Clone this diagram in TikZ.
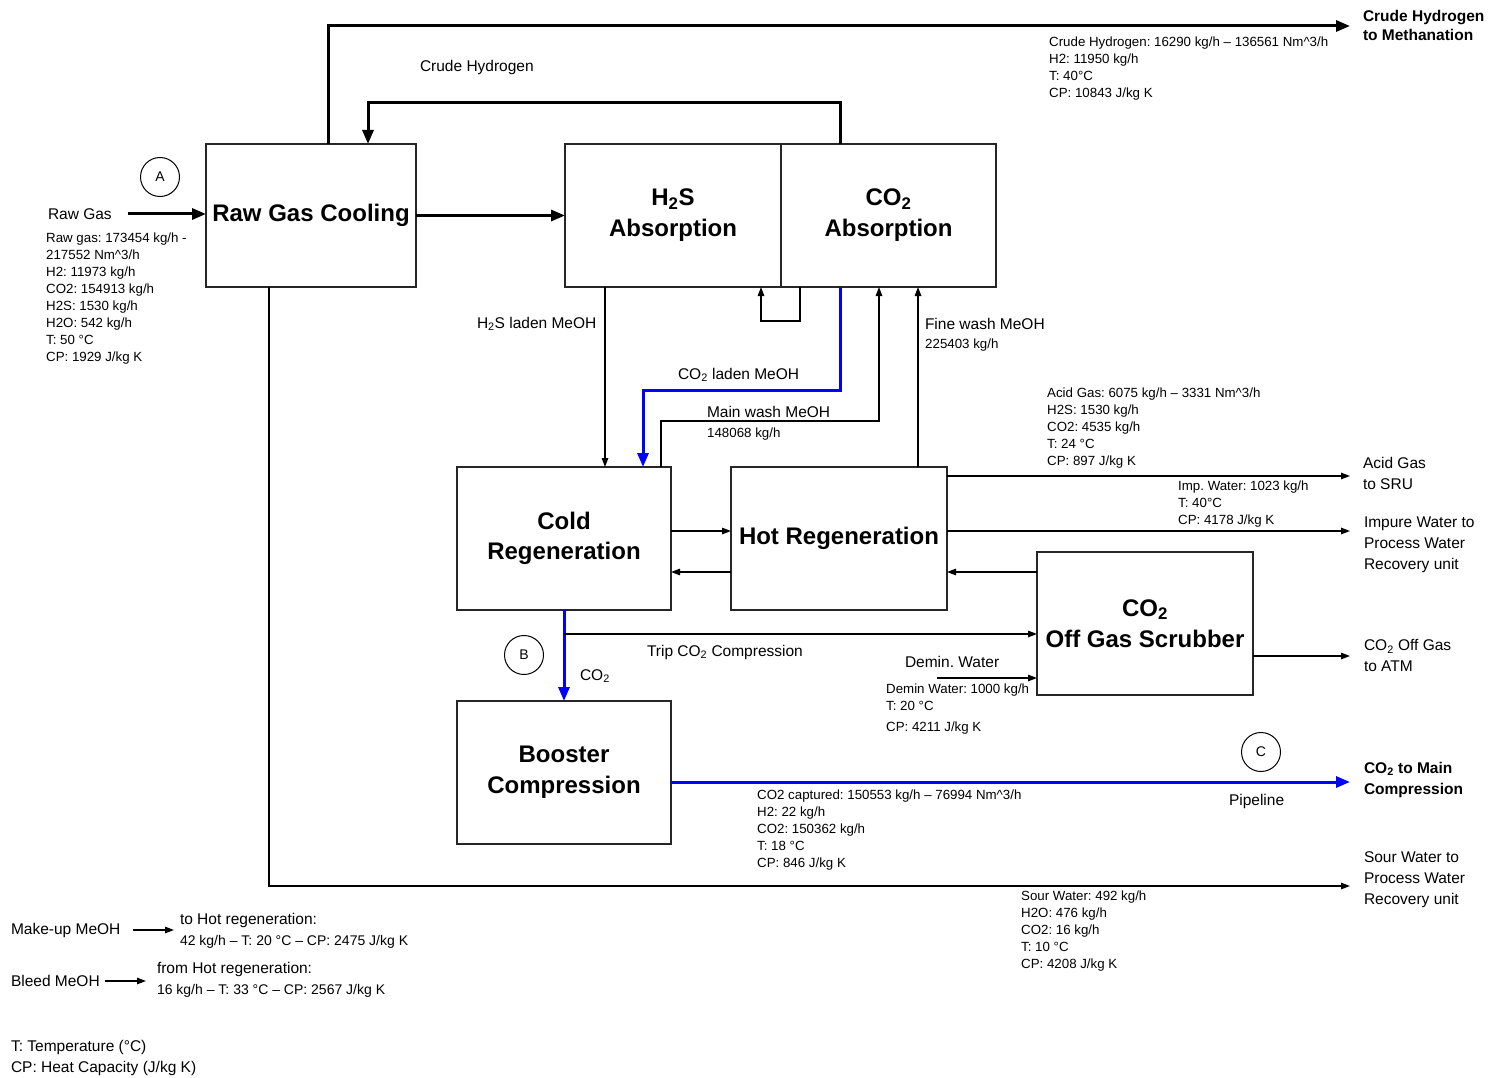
\documentclass[tikz,border=0pt]{standalone}
\usepackage{fontspec}
\setmainfont{Liberation Sans}
\usetikzlibrary{arrows.meta,calc}
\frenchspacing
\begin{document}
\begin{tikzpicture}[x=1pt,y=-1pt,
  box/.style={draw=black!85, line width=1.6pt, inner sep=0pt, outer sep=0pt, align=center,
    minimum height=143pt, font=\fontsize{24}{31}\selectfont\bfseries},
  thickln/.style={line width=3pt, -{Triangle[length=14pt,width=11pt]}},
  blueln/.style={line width=3pt, draw={rgb,255:red,0;green,0;blue,255}, -{Triangle[length=14pt,width=11pt]}},
  thinln/.style={line width=1.3pt, -{Triangle[length=9pt,width=6.5pt]}},
  lbl/.style={inner sep=0pt, outer sep=0pt, anchor=west, align=left, font=\fontsize{15.5}{21}\selectfont},
  blbl/.style={inner sep=0pt, outer sep=0pt, anchor=west, align=left, font=\fontsize{15.5}{19.5}\selectfont\bfseries},
  dat/.style={inner sep=0pt, anchor=west, align=left, font=\fontsize{13.3}{17}\selectfont},
  mark circle/.style={circle, draw, line width=1pt, minimum size=39pt, inner sep=0pt, font=\fontsize{14}{14}\selectfont}
]
\fill[white] (0,0) rectangle (1491,1078);
\useasboundingbox (0,0) rectangle (1491,1078);

% ---------- boxes ----------
\node[box, minimum width=210pt] (rgc) at (311,215.5) {Raw Gas Cooling};
\node[box, minimum width=216pt] (h2s) at (673,215.5) {H\textsubscript{2}S\\Absorption};
\node[box, minimum width=215pt] (co2a) at (888.5,215.5) {CO\textsubscript{2}\\Absorption};
\node[box, minimum width=214pt, font=\fontsize{24}{30}\selectfont\bfseries] (cold) at (564,538.5) {Cold\\Regeneration};
\node[box, minimum width=216pt] (hot) at (839,538.5) {Hot Regeneration};
\node[box, minimum width=216pt] (scrub) at (1145,623.5) {CO\textsubscript{2}\\Off Gas Scrubber};
\node[box, minimum width=214pt] (boost) at (564,772.5) {Booster\\Compression};

% ---------- circles ----------
\node[mark circle] (cA) at (160,177) {A};
\node[mark circle] (cB) at (524,655) {B};
\node[mark circle] (cC) at (1261,752) {C};

% ---------- outlet labels ----------
\node[blbl] (lH2out) at (1363,25.5) {Crude Hydrogen\\to Methanation};
\node[lbl] (lacid) at (1363,473.5) {Acid Gas\\to SRU};
\node[lbl] (limp) at (1364,545) {Impure Water to\\Process Water\\Recovery unit};
\node[lbl] (latm) at (1364,655.5) {CO\textsubscript{2} Off Gas\\to ATM};
\node[blbl, font=\fontsize{15.5}{21}\selectfont\bfseries] (lco2) at (1364,779.5) {CO\textsubscript{2} to Main\\Compression};
\node[lbl] (lsour) at (1364,880) {Sour Water to\\Process Water\\Recovery unit};

\coordinate (eH2) at (1350,26);
\coordinate (eAcid) at (1350,476);
\coordinate (eImp) at (1350,531);
\coordinate (eAtm) at (1350,656);
\coordinate (eCO2) at (1350,782);
\coordinate (eSour) at (1350,886);
\coordinate (eDemin) at (937,678);

% ---------- stream labels ----------
\node[lbl] (lraw) at (48,214) {Raw Gas};
\node[lbl] (lcrude) at (420,67) {Crude Hydrogen};
\node[lbl] (lh2sladen) at (477,324) {H\textsubscript{2}S laden MeOH};
\node[lbl] (lco2laden) at (678,375) {CO\textsubscript{2} laden MeOH};
\node[lbl] (lmain) at (707,412) {Main wash MeOH};
\node[dat] (dmain) at (707,434) {148068 kg/h};
\node[lbl] (lfine) at (925,324) {Fine wash MeOH};
\node[dat] (dfine) at (925,345) {225403 kg/h};
\node[lbl] (ltrip) at (647,652) {Trip CO\textsubscript{2} Compression};
\node[lbl] (lco2b) at (580,676) {CO\textsubscript{2}};
\node[lbl] (ldemin) at (905,662) {Demin. Water};
\node[lbl] (lpipe) at (1229,801) {Pipeline};

% ---------- data blocks ----------
\node[dat] (dH2) at (1049,68.5) {Crude Hydrogen: 16290 kg/h – 136561 Nm\textasciicircum 3/h\\H2: 11950 kg/h\\T: 40°C\\CP: 10843 J/kg K};
\node[dat] (draw) at (46,299) {Raw gas: 173454 kg/h -\\217552 Nm\textasciicircum 3/h\\H2: 11973 kg/h\\CO2: 154913 kg/h\\H2S: 1530 kg/h\\H2O: 542 kg/h\\T: 50 °C\\CP: 1929 J/kg K};
\node[dat] (dacid) at (1047,428) {Acid Gas: 6075 kg/h – 3331 Nm\textasciicircum 3/h\\H2S: 1530 kg/h\\CO2: 4535 kg/h\\T: 24 °C\\CP: 897 J/kg K};
\node[dat] (dimp) at (1178,504) {Imp. Water: 1023 kg/h\\T: 40°C\\CP: 4178 J/kg K};
\node[dat] (ddemin) at (886,709) {Demin Water: 1000 kg/h\\T: 20 °C\\[4pt]CP: 4211 J/kg K};
\node[dat] (dco2) at (757,830) {CO2 captured: 150553 kg/h – 76994 Nm\textasciicircum 3/h\\H2: 22 kg/h\\CO2: 150362 kg/h\\T: 18 °C\\CP: 846 J/kg K};
\node[dat] (dsour) at (1021,931) {Sour Water: 492 kg/h\\H2O: 476 kg/h\\CO2: 16 kg/h\\T: 10 °C\\CP: 4208 J/kg K};

% ---------- bottom-left notes ----------
\node[lbl] (lmk) at (11,930) {Make-up MeOH};
\node[lbl] (mkd) at (180,930.5) {to Hot regeneration:\\\fontsize{14}{17}\selectfont 42 kg/h – T: 20 °C – CP: 2475 J/kg K};
\node[lbl] (lbleed) at (11,981) {Bleed MeOH};
\node[lbl] (bld) at (157,979.5) {from Hot regeneration:\\\fontsize{14}{17}\selectfont 16 kg/h – T: 33 °C – CP: 2567 J/kg K};
\node[lbl] (leg1) at (11,1047) {T: Temperature (°C)};
\node[lbl] (leg2) at (11,1068) {CP: Heat Capacity (J/kg K)};

% ---------- connectors ----------
% raw gas in
\draw[thickln, shorten <=16pt] (lraw.east) -- (lraw.east -| rgc.west);
% raw gas cooling -> H2S absorption
\draw[thickln] (rgc.east) -- (h2s.west);
% crude hydrogen to methanation
\draw[thickln] ($(rgc.north west)+(122,0)$) |- (eH2);
% crude hydrogen back to raw gas cooling
\draw[thickln] ($(co2a.north west)+(59,0)$) -- ++(0,-41) -| ($(rgc.north west)+(162,0)$);
% small loop CO2 -> H2S absorption
\draw[thinln] ($(co2a.south west)+(19,0)$) -- ++(0,34) -| ($(h2s.south west)+(196,0)$);
% H2S laden MeOH
\draw[thinln] ($(h2s.south west)+(40,0)$) -- ($(cold.north west)+(148,0)$);
% CO2 laden MeOH
\draw[blueln] ($(co2a.south west)+(59,0)$) -- ++(0,103) -| ($(cold.north west)+(186,0)$);
% main wash MeOH
\draw[thinln] ($(cold.north west)+(204,0)$) -- ++(0,-46) -| ($(co2a.south west)+(98,0)$);
% fine wash MeOH
\draw[thinln] ($(hot.north west)+(187,0)$) -- ($(co2a.south west)+(137,0)$);
% acid gas / impure water
\draw[thinln] ($(hot.north east)+(0,9)$) -- (eAcid);
\draw[thinln] ($(hot.north east)+(0,64)$) -- (eImp);
% cold <-> hot
\draw[thinln] ($(cold.north east)+(0,64)$) -- ($(hot.north west)+(0,64)$);
\draw[thinln] ($(hot.north west)+(0,105)$) -- ($(cold.north east)+(0,105)$);
% scrubber -> hot
\draw[thinln] ($(scrub.north west)+(0,20)$) -- ($(hot.north east)+(0,105)$);
% CO2 to booster
\draw[blueln] (cold.south) -- (boost.north);
% trip CO2 compression
\draw[thinln] ($(cold.south)+(0,24)$) -- ($(scrub.north west)+(0,82)$);
% demin water
\draw[thinln] (eDemin) -- ($(scrub.north west)+(0,126)$);
% off gas to ATM
\draw[thinln] ($(scrub.north east)+(0,104)$) -- (eAtm);
% CO2 to main compression
\draw[blueln] ($(boost.north east)+(0,81)$) -- (eCO2);
% sour water
\draw[thinln] ($(rgc.south west)+(63,0)$) |- (eSour);
% make-up / bleed
\draw[thinln, shorten <=13pt, shorten >=6pt] (lmk.east) -- (lmk.east -| mkd.west);
\draw[thinln, shorten <=5pt, shorten >=11pt] (lbleed.east) -- (lbleed.east -| bld.west);
\end{tikzpicture}
\end{document}
